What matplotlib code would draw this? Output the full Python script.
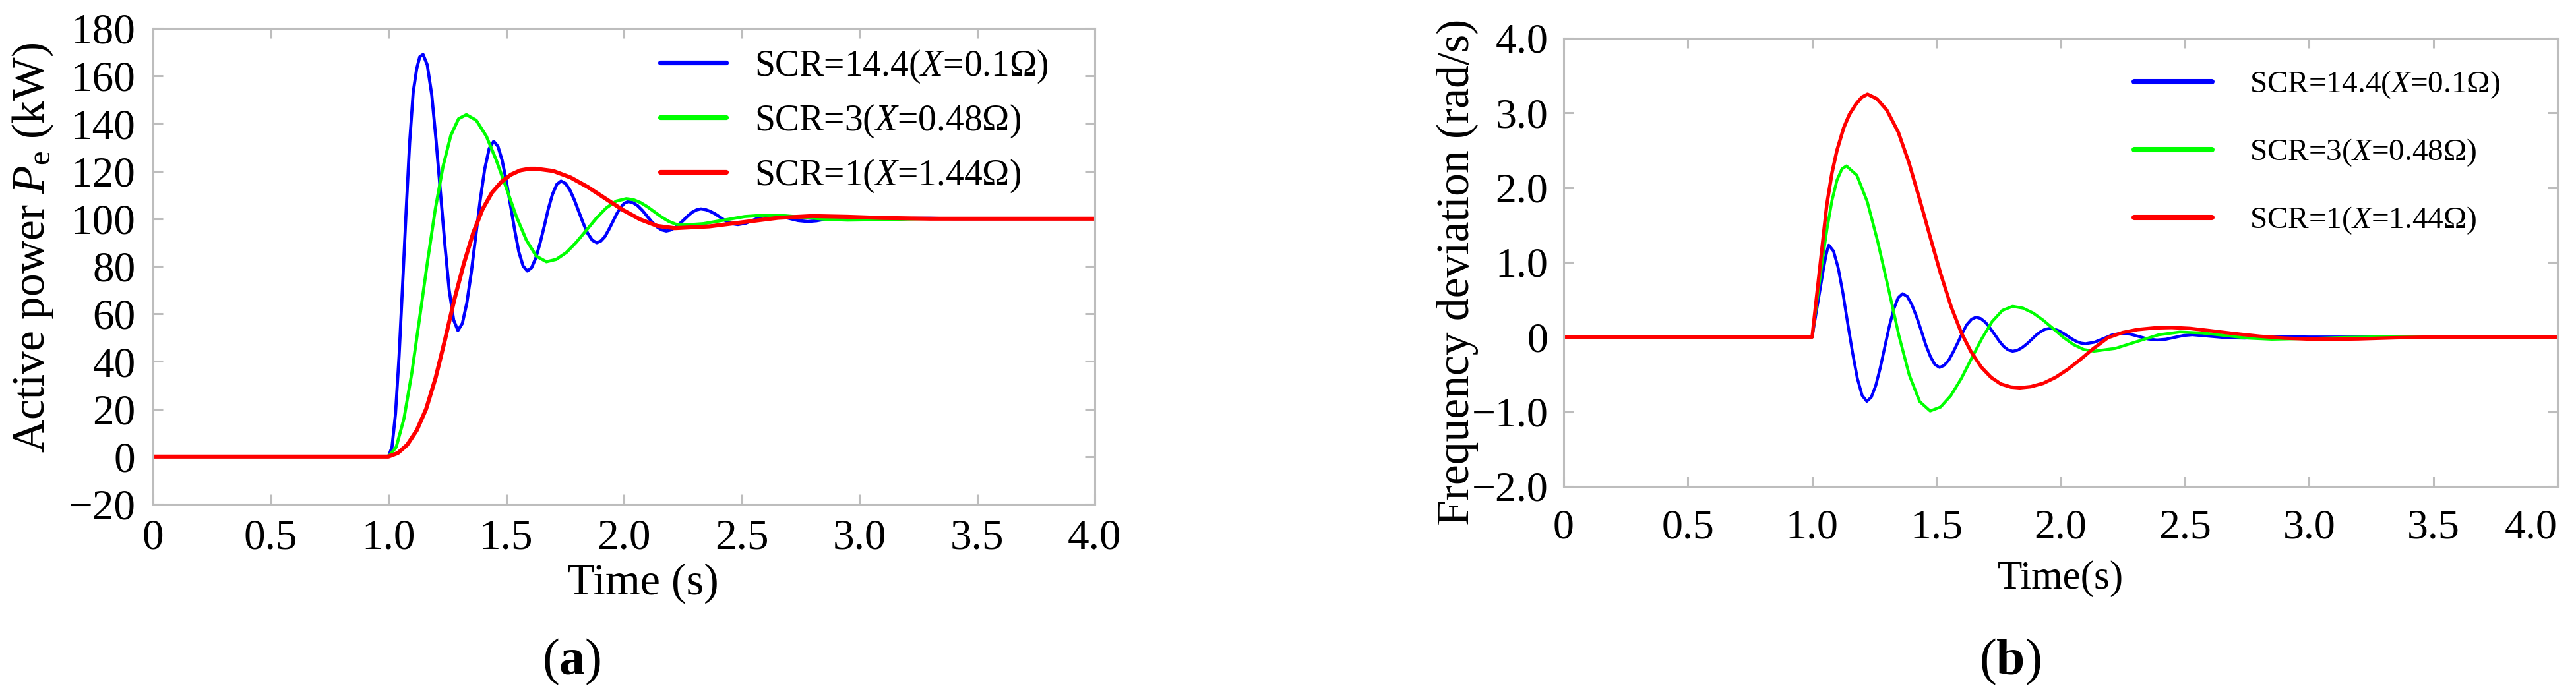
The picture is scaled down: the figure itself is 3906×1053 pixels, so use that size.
import numpy as np
import matplotlib
matplotlib.use("Agg")
import matplotlib.pyplot as plt

plt.rcParams['font.family'] = ['Liberation Serif', 'DejaVu Serif']
plt.rcParams['mathtext.fontset'] = 'custom'
plt.rcParams['mathtext.rm'] = 'Liberation Serif'
plt.rcParams['mathtext.it'] = 'Liberation Serif:italic'
plt.rcParams['mathtext.bf'] = 'Liberation Serif:bold'

# ---------------- data: panel (a) active power (kW) ----------------
labels = ["SCR=14.4($X$=0.1Ω)", "SCR=3($X$=0.48Ω)", "SCR=1($X$=1.44Ω)"]
colors = ["#0000ff", "#00ff00", "#ff0000"]

t_a_blue = [0, 1.0, 1.015, 1.03, 1.045, 1.06, 1.075, 1.09, 1.105, 1.12, 1.133, 1.147,
            1.165, 1.184, 1.202, 1.221, 1.24, 1.258, 1.277, 1.295,
            1.314, 1.333, 1.352, 1.371, 1.39, 1.409, 1.428, 1.447,
            1.465, 1.483, 1.501, 1.519, 1.537, 1.554, 1.572, 1.59,
            1.608, 1.626, 1.644, 1.662, 1.679, 1.697, 1.715, 1.733,
            1.752, 1.771, 1.79, 1.809, 1.828, 1.847, 1.866, 1.885,
            1.902, 1.919, 1.935, 1.952, 1.969, 1.986, 2.002, 2.019,
            2.039, 2.059, 2.079, 2.099, 2.119, 2.14, 2.16, 2.18,
            2.198, 2.217, 2.235, 2.254, 2.272, 2.29, 2.309, 2.327,
            2.347, 2.366, 2.386, 2.406, 2.425, 2.445, 2.464, 2.484,
            2.518, 2.552, 2.586, 2.62, 2.66, 2.70, 2.74, 2.78,
            2.818, 2.855, 2.893, 2.93, 2.97, 3.0, 3.04, 3.08, 3.15, 3.23, 3.3, 3.4, 4.0]
p_a_blue = [0, 0, 4, 18, 42, 72, 103, 132, 153, 163, 168, 169,
            164.6, 152, 133.2, 111, 88.8, 70, 57.4, 53,
            56, 64.6, 77.5, 92.75, 108, 120.9, 129.5, 132.5,
            130.4, 124.5, 115.7, 105.25, 94.8, 86, 80.1, 78,
            79.4, 83.5, 89.7, 96.9, 104.1, 110.3, 114.4, 115.8,
            114.8, 112, 107.8, 102.85, 97.9, 93.7, 90.9, 89.9,
            90.6, 92.4, 95.2, 98.55, 101.9, 104.7, 106.5, 107.2,
            106.7, 105.4, 103.4, 101, 98.6, 96.6, 95.3, 94.8,
            95.2, 96.2, 97.7, 99.45, 101.2, 102.7, 103.7, 104.1,
            103.8, 103.1, 102.1, 100.8, 99.5, 98.5, 97.8, 97.5,
            98.1, 99.5, 100.9, 101.5, 101.1, 100.15, 99.2, 98.8,
            99.1, 99.75, 100.4, 100.7, 100.5, 100.15, 99.8, 99.6, 99.8, 100.15, 100.2, 100, 100]

t_a_green = [0, 1.0, 1.033, 1.066, 1.099, 1.132, 1.166, 1.199, 1.232, 1.265, 1.298, 1.331,
             1.373, 1.416, 1.458, 1.501, 1.543, 1.586, 1.628, 1.671,
             1.713, 1.756, 1.798, 1.841, 1.883, 1.925, 1.968, 2.01,
             2.04, 2.07, 2.10, 2.13, 2.16, 2.19, 2.22, 2.25,
             2.338, 2.425, 2.513, 2.6, 2.688, 2.775, 2.863, 2.95,
             3.1, 3.3, 3.5, 4.0]
p_a_green = [0, 0, 4, 16, 35, 58, 82, 104, 122, 135, 142, 143.7,
             141.35, 134.65, 124.6, 112.8, 101, 90.95, 84.25, 81.9,
             82.9, 85.8, 90.1, 95.15, 100.2, 104.5, 107.4, 108.4,
             108, 106.8, 105, 102.85, 100.7, 98.9, 97.7, 97.3,
             97.9, 99.4, 100.9, 101.5, 101.2, 100.45, 99.7, 99.4,
             99.6, 100.1, 100.1, 100]

t_a_red = [0, 1.0, 1.04, 1.08, 1.12, 1.16, 1.20, 1.24, 1.28, 1.32, 1.36, 1.40, 1.44, 1.48,
           1.52, 1.56, 1.60, 1.626,
           1.70, 1.774, 1.847, 1.921, 1.995, 2.069, 2.142, 2.216,
           2.362, 2.508, 2.654, 2.8, 2.95, 3.1, 3.3, 4.0]
p_a_red = [0, 0, 1.5, 5, 11, 20, 33, 49, 66, 81, 94, 104, 111, 115.5,
           118.5, 120.3, 121, 121,
           120.05, 117.3, 113.3, 108.5, 103.7, 99.7, 96.95, 96,
           96.75, 98.55, 100.35, 101.1, 100.8, 100.3, 100, 100]

# ---------------- data: panel (b) frequency deviation (rad/s) ----------------
t_b_blue = [0, 1.0, 1.015, 1.03, 1.045, 1.055, 1.062, 1.067,
            1.086, 1.105, 1.124, 1.143, 1.163, 1.182, 1.201, 1.22,
            1.238, 1.256, 1.274, 1.292, 1.31, 1.328, 1.346, 1.364,
            1.383, 1.401, 1.42, 1.439, 1.457, 1.476, 1.494, 1.513,
            1.531, 1.55, 1.568, 1.587, 1.605, 1.623, 1.642, 1.66,
            1.678, 1.697, 1.715, 1.734, 1.752, 1.77, 1.789, 1.807,
            1.826, 1.844, 1.863, 1.882, 1.9, 1.919, 1.937, 1.956,
            1.974, 1.992, 2.01, 2.028, 2.046, 2.064, 2.082, 2.10,
            2.136, 2.173, 2.209, 2.245, 2.281, 2.317, 2.352, 2.388,
            2.424, 2.459, 2.495, 2.53, 2.6, 2.67, 2.74, 2.82, 2.9, 3.0, 4.0]
f_b_blue = [0, 0, 0.3, 0.6, 0.9, 1.08, 1.18, 1.23,
            1.15, 0.924, 0.585, 0.185, -0.216, -0.555, -0.781, -0.861,
            -0.806, -0.65, -0.416, -0.14, 0.135, 0.369, 0.525, 0.58,
            0.542, 0.435, 0.275, 0.0865, -0.102, -0.262, -0.369, -0.407,
            -0.381, -0.309, -0.2, -0.071, 0.058, 0.167, 0.239, 0.265,
            0.248, 0.198, 0.125, 0.0375, -0.05, -0.124, -0.173, -0.19,
            -0.178, -0.145, -0.096, -0.0375, 0.021, 0.07, 0.103, 0.115,
            0.107, 0.085, 0.052, 0.0125, -0.027, -0.06, -0.082, -0.09,
            -0.07, -0.02, 0.03, 0.05, 0.037, 0.005, -0.027, -0.04,
            -0.03, -0.005, 0.02, 0.03, 0.01, -0.01, -0.015, -0.005, 0.005, 0, 0]

t_b_green = [0, 1.0, 1.02, 1.04, 1.06, 1.08, 1.10, 1.12, 1.138,
             1.18, 1.222, 1.264, 1.307, 1.349, 1.391, 1.433, 1.475,
             1.517, 1.558, 1.6, 1.641, 1.683, 1.724, 1.766, 1.807,
             1.848, 1.889, 1.93, 1.971, 2.011, 2.052, 2.093, 2.134,
             2.221, 2.307, 2.394, 2.48, 2.573, 2.665, 2.758, 2.85,
             3.0, 3.15, 3.3, 4.0]
f_b_green = [0, 0, 0.5, 1.0, 1.45, 1.83, 2.1, 2.25, 2.29,
             2.165, 1.81, 1.278, 0.65, 0.022, -0.51, -0.865, -0.99,
             -0.937, -0.785, -0.558, -0.29, -0.022, 0.205, 0.357, 0.41,
             0.387, 0.322, 0.225, 0.11, -0.005, -0.102, -0.167, -0.19,
             -0.152, -0.0615, 0.029, 0.067, 0.053, 0.019, -0.016, -0.03,
             -0.02, -0.005, 0.003, 0]

t_b_red = [0, 1.0, 1.02, 1.04, 1.059, 1.08, 1.10, 1.127, 1.15, 1.177, 1.20, 1.223,
           1.26, 1.30, 1.347, 1.39, 1.432, 1.475, 1.516, 1.56, 1.60, 1.64, 1.68, 1.72,
           1.76, 1.80, 1.836, 1.88, 1.93, 1.98, 2.03, 2.08, 2.13, 2.19, 2.25, 2.31,
           2.38, 2.447, 2.52, 2.6, 2.7, 2.8, 2.9, 3.0, 3.1, 3.2, 3.35, 3.5, 4.0]
f_b_red = [0, 0, 0.6, 1.2, 1.77, 2.2, 2.5, 2.8, 2.98, 3.12, 3.21, 3.25,
           3.19, 3.04, 2.74, 2.33, 1.85, 1.34, 0.86, 0.40, 0.06, -0.2, -0.4, -0.54,
           -0.63, -0.67, -0.68, -0.665, -0.62, -0.54, -0.43, -0.3, -0.16, -0.01, 0.06, 0.1,
           0.122, 0.127, 0.115, 0.085, 0.045, 0.01, -0.015, -0.028, -0.03, -0.025, -0.01, 0, 0]

x_ticks = [0, 0.5, 1.0, 1.5, 2.0, 2.5, 3.0, 3.5, 4.0]
x_ticklabels = ["0", "0.5", "1.0", "1.5", "2.0", "2.5", "3.0", "3.5", "4.0"]
ya_ticks = [-20, 0, 20, 40, 60, 80, 100, 120, 140, 160, 180]
ya_ticklabels = ["\u221220", "0", "20", "40", "60", "80", "100", "120", "140", "160", "180"]
yb_ticks = [-2, -1, 0, 1, 2, 3, 4]
yb_ticklabels = ["\u22122.0", "\u22121.0", "0", "1.0", "2.0", "3.0", "4.0"]

W, H = 3906, 1053
fig = plt.figure(figsize=(W / 100, H / 100), dpi=100)

spine_col = "#bdbdbd"


def style_axes(ax, xpad, ypad, lsize):
    for s in ax.spines.values():
        s.set_color(spine_col)
        s.set_linewidth(2.2)
    ax.tick_params(axis='both', which='both', direction='in', length=10.5, width=2.2,
                   color=spine_col, top=True, right=True, labelsize=lsize)
    ax.tick_params(axis='x', pad=xpad)
    ax.tick_params(axis='y', pad=ypad)


def place_legend(ax, fs, hl, htp, lw, line_x, rows):
    """Legend whose handle lines land at the given pixel positions (from top-left)."""
    fs_px = fs * 100 / 72.0
    ls = 0.6
    ax_x, ax_y = line_x / W, 1 - (rows[0] - 0.5 * fs_px) / H
    leg = None
    for _ in range(4):
        if leg is not None:
            leg.remove()
        leg = ax.legend(loc='upper left', bbox_to_anchor=(ax_x, ax_y),
                        bbox_transform=fig.transFigure, frameon=False, fontsize=fs,
                        handlelength=hl, handletextpad=htp, labelspacing=ls,
                        borderpad=0, borderaxespad=0)
        for ln in leg.get_lines():
            ln.set_linewidth(lw)
            ln.set_solid_capstyle('round')
        fig.canvas.draw()
        r = fig.canvas.get_renderer()
        bbs = [ln.get_window_extent(r) for ln in leg.get_lines()]
        ys = [H - 0.5 * (b.y0 + b.y1) for b in bbs]
        x0 = bbs[0].x0
        meas = (ys[-1] - ys[0]) / (len(ys) - 1)
        targ = (rows[-1] - rows[0]) / (len(rows) - 1)
        ls = max(0.0, ls + (targ - meas) / fs_px)
        ax_y += (ys[0] - rows[0]) / H
        ax_x -= (x0 - line_x) / W
    leg.remove()
    leg = ax.legend(loc='upper left', bbox_to_anchor=(ax_x, ax_y),
                    bbox_transform=fig.transFigure, frameon=False, fontsize=fs,
                    handlelength=hl, handletextpad=htp, labelspacing=ls,
                    borderpad=0, borderaxespad=0)
    for ln in leg.get_lines():
        ln.set_linewidth(lw)
        ln.set_solid_capstyle('round')
    return leg


# ---------------- panel (a) ----------------
axa = fig.add_axes([232 / W, 1 - 765 / H, 1428 / W, 722 / H])
axa.plot(t_a_blue, p_a_blue, color=colors[0], lw=3.4, label=labels[0])
axa.plot(t_a_green, p_a_green, color=colors[1], lw=3.4, label=labels[1])
axa.plot(t_a_red, p_a_red, color=colors[2], lw=4.4, label=labels[2])
axa.set_xlim(0, 4)
axa.set_ylim(-20, 180)
axa.set_xticks(x_ticks)
axa.set_xticklabels(x_ticklabels)
axa.set_yticks(ya_ticks)
axa.set_yticklabels(ya_ticklabels)
style_axes(axa, 16, 19, 47)
axa.set_ylabel("Active power $P_{\\rm e}$ (kW)", fontsize=50, va='center')
axa.yaxis.set_label_coords((50 - 232) / 1428, (765 - 376) / 722)
axa.set_xlabel("Time (s)", fontsize=49, va='center')
axa.xaxis.set_label_coords((975 - 232) / 1428, (765 - 885) / 722)

# ---------------- panel (b) ----------------
axb = fig.add_axes([2371 / W, 1 - 738 / H, 1507 / W, 680 / H])
axb.plot(t_b_blue, f_b_blue, color=colors[0], lw=3.2, label=labels[0])
axb.plot(t_b_green, f_b_green, color=colors[1], lw=3.2, label=labels[1])
axb.plot(t_b_red, f_b_red, color=colors[2], lw=3.8, label=labels[2])
axb.set_xlim(0, 4)
axb.set_ylim(-2, 4)
axb.set_xticks(x_ticks)
axb.set_xticklabels(x_ticklabels)
axb.set_yticks(yb_ticks)
axb.set_yticklabels(yb_ticklabels)
style_axes(axb, 25, 17, 46)
axb.get_xticklabels()[-1].set_horizontalalignment('right')
axb.set_ylabel("Frequency deviation (rad/s)", fontsize=50, va='center')
axb.yaxis.set_label_coords((2210 - 2371) / 1507, (738 - 413) / 680)
axb.set_xlabel("Time(s)", fontsize=44, va='center')
axb.xaxis.set_label_coords((3125 - 2371) / 1507, (738 - 878) / 680)

# ---------------- legends ----------------
place_legend(axa, 40, 1.8, 0.77, 5.2, 1001, [95, 181, 261])
place_legend(axb, 34, 2.5, 1.2, 5.8, 3236, [124, 232, 330])

# ---------------- sub-figure captions ----------------
fig.text(867 / W, 1 - 1004 / H, "($\\mathbf{a}$)", fontsize=56, ha='center', va='center')
fig.text(3048 / W, 1 - 1004 / H, "($\\mathbf{b}$)", fontsize=56, ha='center', va='center')

fig.savefig("out.png", dpi=100, facecolor='white')
